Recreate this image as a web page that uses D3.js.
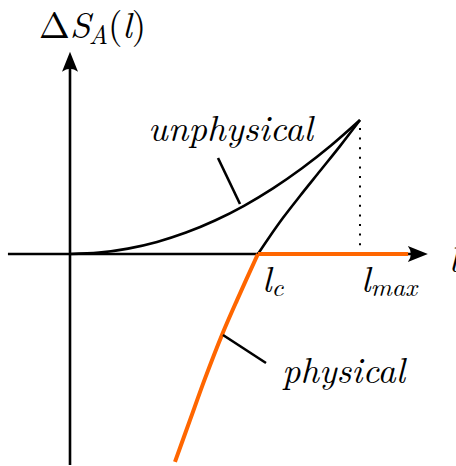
<!DOCTYPE html>
<html><head><meta charset="utf-8">
<script src="https://cdn.jsdelivr.net/npm/d3@7"></script>
<style>body{margin:0;background:#fff}svg{display:block}</style>
</head><body>
<script>
// data (units: l_max = 1)
const lUnphys = [0, 0.1, 0.2, 0.3, 0.4, 0.5, 0.6, 0.7, 0.8, 0.9, 1.0];
const sUnphys = [0, 0.0046, 0.0185, 0.0416, 0.0739, 0.1155, 0.1663, 0.2264, 0.2957, 0.3742, 0.462];
const lBranch = [0.648, 0.683, 0.734, 0.793, 0.862, 0.931, 1.0];
const sBranch = [0, 0.052, 0.124, 0.200, 0.286, 0.372, 0.462];
const lPhys = [0.648, 0.576, 0.524, 0.466, 0.414, 0.362];
const sPhys = [0, -0.159, -0.279, -0.428, -0.572, -0.717];
const lc = 0.648, lmax = 1.0, lEnd = 1.166;
const xAxisRange = [-0.214, 1.234];
const yAxisRange = [-0.728, 0.697];

const W = 456, H = 466;
const FONT = "'Latin Modern Roman'";
const svg = d3.select("body").append("svg").attr("width", W).attr("height", H);
const x = d3.scaleLinear().domain([0, 1]).range([70, 360]);
const y = d3.scaleLinear().domain([0, 1]).range([254, -36]);
const orange = "#ff6600";

const line = d3.line().x(d => x(d[0])).y(d => y(d[1])).curve(d3.curveCatmullRom);

// axes
svg.append("line").attr("x1", x(xAxisRange[0])).attr("x2", x(xAxisRange[1]) - 6)
  .attr("y1", y(0)).attr("y2", y(0)).attr("stroke", "#000").attr("stroke-width", 2.6);
svg.append("line").attr("x1", x(0)).attr("x2", x(0))
  .attr("y1", y(yAxisRange[0])).attr("y2", y(yAxisRange[1]) + 6).attr("stroke", "#000").attr("stroke-width", 2.6);

function arrow(tx, ty, angle) {
  svg.append("path").attr("d", "M0,0 L-20,-8 Q-14,0 -20,8 Z")
    .attr("transform", `translate(${tx},${ty}) rotate(${angle})`).attr("fill", "#000");
}
arrow(x(0), y(yAxisRange[1]), -90);

// dotted line at lmax
svg.append("line").attr("x1", x(lmax)).attr("x2", x(lmax))
  .attr("y1", y(sBranch[sBranch.length-1]) + 8).attr("y2", y(0))
  .attr("stroke", "#000").attr("stroke-width", 2).attr("stroke-dasharray", "2,7.6");

// unphysical curve
svg.append("path").datum(d3.zip(lUnphys, sUnphys)).attr("d", line)
  .attr("fill", "none").attr("stroke", "#000").attr("stroke-width", 2.6);
// upper branch of second curve
svg.append("path").datum(d3.zip(lBranch, sBranch)).attr("d", line)
  .attr("fill", "none").attr("stroke", "#000").attr("stroke-width", 2.6);

// physical orange
svg.append("line").attr("x1", x(lc)).attr("x2", x(lEnd)).attr("y1", y(0)).attr("y2", y(0))
  .attr("stroke", orange).attr("stroke-width", 4);
svg.append("path").datum(d3.zip(lPhys, sPhys)).attr("d", line)
  .attr("fill", "none").attr("stroke", orange).attr("stroke-width", 4).attr("stroke-linecap", "butt");
arrow(x(xAxisRange[1]), y(0), 0);

// label ticks
svg.append("line").attr("x1", 218).attr("y1", 158).attr("x2", 240).attr("y2", 204)
  .attr("stroke", "#000").attr("stroke-width", 2.6);
svg.append("line").attr("x1", 223).attr("y1", 335).attr("x2", 266).attr("y2", 363)
  .attr("stroke", "#000").attr("stroke-width", 2.6);

// texts
const fs = 37, fsub = 26;
function txt(sel) { return sel.attr("font-family", FONT); }
txt(svg.append("text")).attr("x", 148).attr("y", 141).attr("font-size", fs).attr("font-style", "italic")
  .attr("textLength", 165).attr("lengthAdjust", "spacingAndGlyphs").text("unphysical");
txt(svg.append("text")).attr("x", 282).attr("y", 383).attr("font-size", fs).attr("font-style", "italic")
  .attr("textLength", 123).attr("lengthAdjust", "spacingAndGlyphs").text("physical");

const t1 = txt(svg.append("text")).attr("x", 39).attr("y", 38).attr("font-size", fs);
t1.append("tspan").text("Δ");
t1.append("tspan").attr("font-style", "italic").text("S");
t1.append("tspan").attr("font-style", "italic").attr("font-size", fsub).attr("dy", 6).attr("dx", -2).text("A");
t1.append("tspan").attr("dy", -6).text("(");
t1.append("tspan").attr("font-style", "italic").text("l");
t1.append("tspan").text(")");

txt(svg.append("text")).attr("x", 449).attr("y", 272).attr("font-size", fs).attr("font-style", "italic").text("l");

const t2 = txt(svg.append("text")).attr("x", 262).attr("y", 292).attr("font-size", fs).attr("font-style", "italic");
t2.append("tspan").text("l");
t2.append("tspan").attr("font-size", fsub).attr("dy", 4).text("c");

const t3 = txt(svg.append("text")).attr("x", 361).attr("y", 292).attr("font-size", fs).attr("font-style", "italic");
t3.append("tspan").text("l");
t3.append("tspan").attr("font-size", fsub).attr("dy", 4).text("max");
</script>
</body></html>
